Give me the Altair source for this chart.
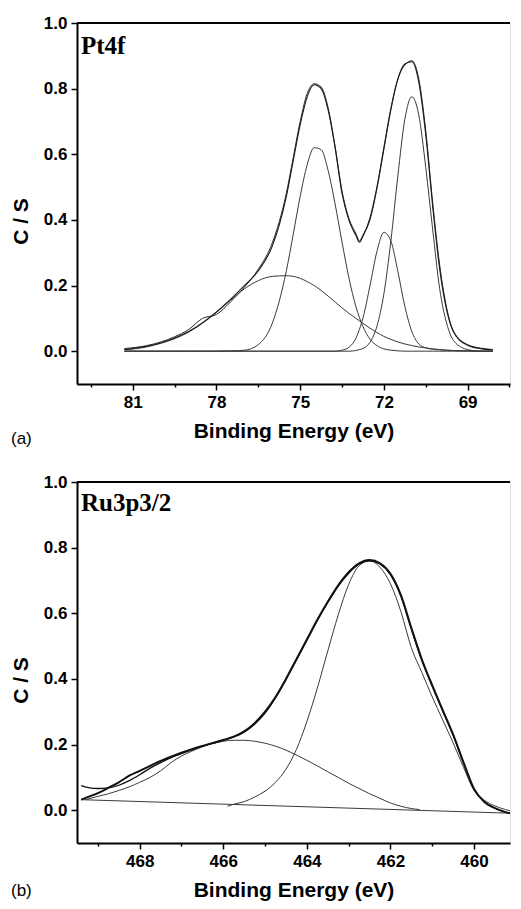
import altair as alt
import pandas as pd

# ---------------- data: panel (a) Pt4f ----------------
E_top = [81.3, 80.5, 80.0, 79.5, 79.0, 78.5, 78.0, 77.5, 77.0, 76.5,
         76.0, 75.5, 75.25, 75.0, 74.75, 74.5, 74.25, 74.0, 73.75, 73.5,
         73.25, 73.0, 72.875, 72.75, 72.5, 72.25, 72.0, 71.75, 71.5, 71.25, 71.0,
         70.75, 70.5, 70.25, 70.0, 69.75, 69.5, 69.0, 68.5, 68.1]
pt_fit = [0.005, 0.015, 0.025, 0.040, 0.060, 0.087, 0.120, 0.158, 0.200, 0.245,
          0.320, 0.470, 0.580, 0.690, 0.775, 0.812, 0.800, 0.735, 0.620, 0.480,
          0.398, 0.352, 0.332, 0.350, 0.405, 0.500, 0.620, 0.740, 0.830, 0.875, 0.882,
          0.820, 0.660, 0.440, 0.250, 0.125, 0.058, 0.018, 0.007, 0.004]
pt_data = [0.008, 0.017, 0.028, 0.044, 0.066, 0.100, 0.112, 0.150, 0.195, 0.250,
           0.330, 0.480, 0.590, 0.700, 0.785, 0.815, 0.805, 0.742, 0.625, 0.488,
           0.404, 0.358, 0.336, 0.354, 0.400, 0.495, 0.615, 0.735, 0.828, 0.872, 0.885,
           0.830, 0.672, 0.452, 0.262, 0.132, 0.060, 0.020, 0.009, 0.005]
pt_c1 = [0, 0, 0, 0, 0, 0, 0, 0.001, 0.003, 0.020,
         0.085, 0.243, 0.356, 0.472, 0.568, 0.620, 0.614, 0.551, 0.449, 0.332,
         0.222, 0.135, 0.102, 0.075, 0.037, 0.017, 0.007, 0.003, 0.001, 0, 0,
         0, 0, 0, 0, 0, 0, 0, 0, 0]
pt_c2 = [0, 0, 0, 0, 0, 0, 0, 0, 0, 0,
         0, 0, 0, 0, 0, 0, 0, 0, 0, 0,
         0, 0.002, 0.005, 0.008, 0.027, 0.076, 0.175, 0.336, 0.534, 0.706, 0.775,
         0.720, 0.560, 0.370, 0.190, 0.085, 0.032, 0.005, 0, 0]
pt_c3 = [0, 0, 0, 0, 0, 0, 0, 0, 0, 0,
         0, 0, 0, 0, 0, 0, 0, 0, 0, 0.003,
         0.012, 0.040, 0.067, 0.101, 0.199, 0.304, 0.362, 0.336, 0.243, 0.137, 0.060,
         0.022, 0.010, 0.006, 0.004, 0.003, 0.002, 0.001, 0, 0]
pt_c4 = [0.004, 0.013, 0.024, 0.038, 0.058, 0.085, 0.118, 0.155, 0.190, 0.215,
         0.228, 0.230, 0.228, 0.222, 0.212, 0.200, 0.185, 0.168, 0.150, 0.132,
         0.115, 0.100, 0.092, 0.085, 0.070, 0.057, 0.045, 0.036, 0.028, 0.022, 0.017,
         0.013, 0.010, 0.007, 0.005, 0.003, 0.002, 0.001, 0, 0]

# ---------------- data: panel (b) Ru3p3/2 ----------------
E_bot = [469.4, 469.2, 469.0, 468.75, 468.5, 468.25, 468.0, 467.75, 467.5, 467.25,
         467.0, 466.75, 466.5, 466.25, 466.0, 465.75, 465.5, 465.25, 465.0, 464.75,
         464.5, 464.25, 464.0, 463.75, 463.5, 463.25, 463.0, 462.75, 462.5, 462.25,
         462.0, 461.75, 461.5, 461.25, 461.0, 460.75, 460.5, 460.25, 460.0, 459.75,
         459.5, 459.25, 459.0]
ru_fit = [0.032, 0.042, 0.052, 0.068, 0.085, 0.105, 0.120, 0.135, 0.150, 0.163,
          0.175, 0.186, 0.196, 0.205, 0.214, 0.224, 0.240, 0.265, 0.300, 0.345,
          0.400, 0.460, 0.520, 0.580, 0.635, 0.685, 0.725, 0.752, 0.762, 0.752,
          0.720, 0.655, 0.555, 0.460, 0.380, 0.305, 0.230, 0.145, 0.065, 0.025,
          0.006, -0.006, -0.012]
ru_data = [0.075, 0.068, 0.066, 0.068, 0.076, 0.090, 0.108, 0.128, 0.145, 0.160,
           0.172, 0.184, 0.195, 0.204, 0.213, 0.223, 0.238, 0.262, 0.296, 0.342,
           0.398, 0.458, 0.518, 0.578, 0.633, 0.683, 0.722, 0.750, 0.760, 0.750,
           0.718, 0.652, 0.552, 0.456, 0.378, 0.302, 0.228, 0.143, 0.063, 0.024,
           0.006, -0.006, -0.012]
E_main = [465.9, 465.75, 465.5, 465.25, 465.0, 464.75, 464.5, 464.25, 464.0, 463.75,
          463.5, 463.25, 463.0, 462.75, 462.5, 462.25, 462.0, 461.75, 461.5, 461.25,
          461.0, 460.75, 460.5, 460.25, 460.0, 459.75, 459.5, 459.25, 459.0]
ru_main = [0.012, 0.018, 0.026, 0.040, 0.058, 0.085, 0.125, 0.185, 0.270, 0.372,
           0.485, 0.595, 0.688, 0.745, 0.760, 0.740, 0.690, 0.605, 0.495, 0.420,
           0.345, 0.275, 0.205, 0.130, 0.060, 0.030, 0.013, 0.002, -0.006]
E_broad = [469.3, 469.0, 468.75, 468.5, 468.25, 468.0, 467.75, 467.5, 467.25, 467.0,
           466.75, 466.5, 466.25, 466.0, 465.75, 465.5, 465.25, 465.0, 464.75, 464.5,
           464.25, 464.0, 463.75, 463.5, 463.25, 463.0, 462.75, 462.5, 462.25, 462.0,
           461.75, 461.5, 461.3]
ru_broad = [0.032, 0.042, 0.050, 0.060, 0.071, 0.085, 0.100, 0.120, 0.145, 0.165,
            0.180, 0.193, 0.203, 0.210, 0.213, 0.213, 0.210, 0.204, 0.195, 0.183,
            0.168, 0.152, 0.135, 0.117, 0.100, 0.082, 0.066, 0.050, 0.036, 0.022,
            0.012, 0.005, 0.002]
E_base = [469.4, 458.95]
ru_base = [0.032, -0.010]

# ---------------- axes ----------------
Y_TICKS = [0.0, 0.1, 0.2, 0.3, 0.4, 0.5, 0.6, 0.7, 0.8, 0.9, 1.0]
X_TICKS_TOP = [82.5, 81, 79.5, 78, 76.5, 75, 73.5, 72, 70.5, 69, 67.5]
X_TICKS_BOT = [469, 468, 467, 466, 465, 464, 463, 462, 461, 460]

FONT = "Liberation Sans"
SERIF = "Liberation Serif"
W, H = 433, 361


def long_df(E, series):
    rows = []
    for name, vals in series.items():
        for e, v in zip(E, vals):
            rows.append({"E": e, "v": v, "s": name})
    return pd.DataFrame(rows)


def y_axis():
    return alt.Axis(
        values=Y_TICKS,
        labelExpr="(round(datum.value*10) % 2 == 0) ? format(datum.value, '.1f') : ''",
        tickSize={"condition": {"test": "round(datum.value*10) % 2 != 0", "value": 3}, "value": 6},
        title="C / S", titleFont=FONT, titleFontSize=21, titleFontWeight="bold",
        titleColor="black", titleX=-46, titleY=198,
        labelFont=FONT, labelFontSize=17, labelFontWeight="bold", labelColor="black",
        labelPadding=4, domainColor="black", domainWidth=2, tickColor="black",
        tickWidth=1.5, grid=False,
    )


def panel(thin_series, thick_series, xdomain, xticks, major_test, label, tag,
          label_y, tag_y, title_pad):
    expr = f"({major_test}) ? format(datum.value, 'd') : ''"
    xax = alt.Axis(
        values=xticks, labelExpr=expr,
        tickSize={"condition": {"test": major_test, "value": 6}, "value": 3},
        title="Binding Energy (eV)", titleFont=FONT, titleFontSize=21,
        titleFontWeight="bold", titleColor="black", titlePadding=title_pad,
        labelFont=FONT, labelFontSize=17, labelFontWeight="bold", labelColor="black",
        labelPadding=4, domainColor="black", domainWidth=2, tickColor="black",
        tickWidth=1.5, grid=False, labelFlush=False,
    )
    xs = alt.Scale(domain=xdomain, reverse=True, nice=False, zero=False)
    ys = alt.Scale(domain=[-0.1, 1.0], nice=False, zero=False)
    thin = alt.Chart(thin_series).mark_line(
        color="#3a3a3a", strokeWidth=1, interpolate="monotone", clip=True
    ).encode(
        x=alt.X("E:Q", scale=xs, axis=xax),
        y=alt.Y("v:Q", scale=ys, axis=y_axis()),
        detail="s:N",
    )
    layers = [thin]
    for df, sw, col in thick_series:
        layers.append(
            alt.Chart(df).mark_line(color=col, strokeWidth=sw, interpolate="monotone",
                                    clip=True).encode(
                x="E:Q", y="v:Q", detail="s:N"
            )
        )
    one = pd.DataFrame({"a": [0]})
    frame = alt.Chart(one).mark_rule(color="black", strokeWidth=2).encode(
        x=alt.value(0), x2=alt.value(W), y=alt.value(0)
    )
    name = alt.Chart(one).mark_text(
        text=label, font=SERIF, fontWeight="bold", fontSize=25, align="left",
        baseline="alphabetic", color="black"
    ).encode(x=alt.value(4), y=alt.value(label_y))
    tagm = alt.Chart(one).mark_text(
        text=tag, font=FONT, fontSize=17, align="left", baseline="middle", color="black"
    ).encode(x=alt.value(-66), y=alt.value(tag_y))
    layers += [frame, name, tagm]
    return alt.layer(*layers).properties(width=W, height=H)


top_thin = long_df(E_top, {"c1": pt_c1, "c2": pt_c2, "c3": pt_c3, "c4": pt_c4})
top_thick = [
    (long_df(E_top, {"data": pt_data}), 1.0, "#2a2a2a"),
    (long_df(E_top, {"fit": pt_fit}), 1.1, "#1a1a1a"),
]
top = panel(top_thin, top_thick, [67.48, 83.0], X_TICKS_TOP,
            "datum.value % 3 == 0", "Pt4f", "(a)", 31, H + 55, 10)

bot_thin = pd.concat([
    long_df(E_main, {"main": ru_main}),
    long_df(E_broad, {"broad": ru_broad}),
    long_df(E_base, {"base": ru_base}),
])
bot_thick = [
    (long_df(E_bot, {"data": ru_data}), 1.3, "#111111"),
    (long_df(E_bot, {"fit": ru_fit}), 2.0, "#111111"),
]
bot = panel(bot_thin, bot_thick, [459.14, 469.5], X_TICKS_BOT,
            "datum.value % 2 == 0", "Ru3p3/2", "(b)", 29, H + 48, 10)

chart = alt.vconcat(top, bot, spacing=24).properties(
    padding={"left": 1, "top": 5, "right": 0, "bottom": 0}
).configure_view(stroke=None).configure(background="white")

chart.save("out.html", embed_options={"renderer": "svg", "actions": False})
